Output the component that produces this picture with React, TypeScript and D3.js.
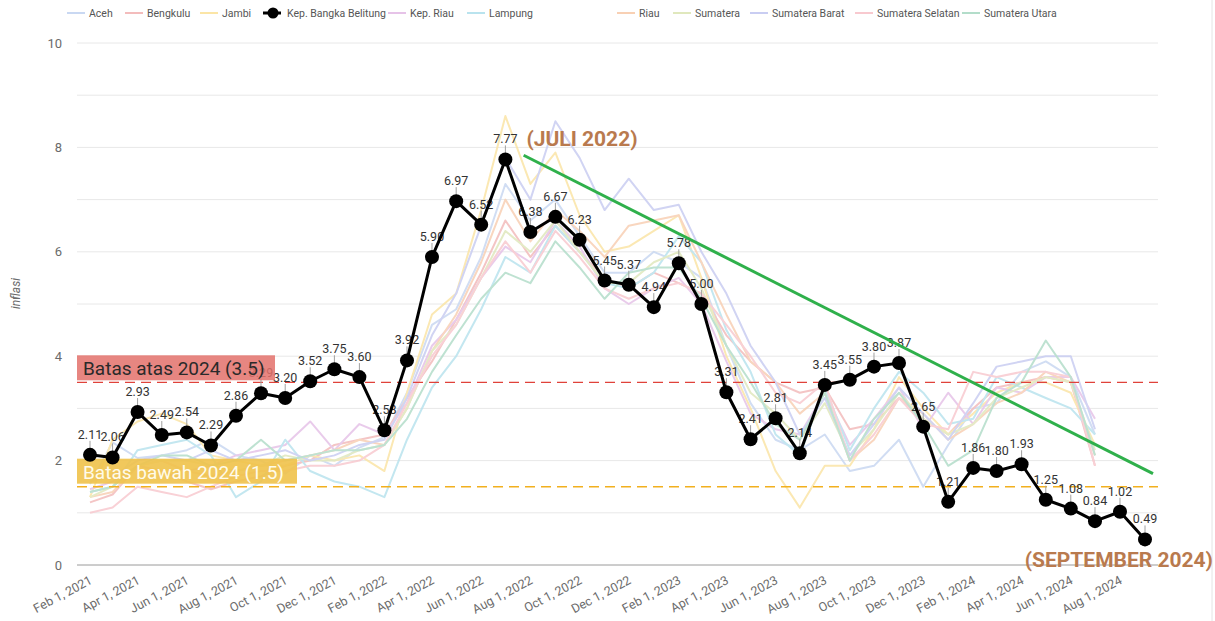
import React from "react";
import * as d3 from "d3";

const months = [
  "2021-02","2021-03","2021-04","2021-05","2021-06","2021-07","2021-08","2021-09","2021-10","2021-11","2021-12",
  "2022-01","2022-02","2022-03","2022-04","2022-05","2022-06","2022-07","2022-08","2022-09","2022-10","2022-11","2022-12",
  "2023-01","2023-02","2023-03","2023-04","2023-05","2023-06","2023-07","2023-08","2023-09","2023-10","2023-11","2023-12",
  "2024-01","2024-02","2024-03","2024-04","2024-05","2024-06","2024-07","2024-08","2024-09",
];

const babel = [2.11,2.06,2.93,2.49,2.54,2.29,2.86,3.29,3.20,3.52,3.75,3.60,2.58,3.92,5.90,6.97,6.52,7.77,6.38,6.67,6.23,5.45,5.37,4.94,5.78,5.00,3.31,2.41,2.81,2.14,3.45,3.55,3.80,3.87,2.65,1.21,1.86,1.80,1.93,1.25,1.08,0.84,1.02,0.49];

const aceh = [1.55,2.35,2.05,2.1,2.2,2.4,2.1,2.0,1.75,2.1,1.9,2.25,2.45,3.3,4.6,4.9,5.9,7.3,6.6,7.0,6.3,5.6,5.6,6.0,5.8,5.5,4.2,3.1,2.4,2.2,2.5,1.8,1.9,2.4,1.5,2.3,3.0,3.1,3.7,3.9,3.6,2.5];
const bengkulu = [1.2,1.35,1.9,1.8,1.6,1.45,1.6,1.7,1.9,2.0,2.3,2.4,2.5,3.2,3.9,4.7,5.6,6.6,5.9,6.5,6.0,5.5,5.3,5.6,5.4,5.2,4.4,3.9,3.5,3.3,3.4,2.6,2.7,3.2,2.8,2.5,3.0,3.4,3.5,3.6,3.5,1.9];
const jambi = [1.3,2.4,2.75,2.9,2.7,2.1,2.0,1.9,1.9,2.1,2.0,2.1,1.8,3.3,4.8,5.2,6.8,8.6,7.3,7.9,6.7,6.0,6.1,6.4,6.7,5.5,4.0,3.0,1.8,1.1,1.9,1.9,2.6,3.6,3.0,2.5,2.9,3.3,3.5,3.5,3.3,2.3];
const kepRiau = [1.45,1.6,1.9,2.0,1.8,1.9,2.1,2.2,2.3,2.75,2.2,2.7,2.5,3.1,4.2,4.7,5.5,6.1,5.8,6.6,6.1,5.3,5.0,5.3,5.5,5.0,3.9,2.9,2.6,2.5,3.3,2.3,2.8,3.4,2.6,3.3,2.7,3.4,3.3,3.6,3.6,2.8];
const lampung = [1.4,1.5,2.2,2.3,2.4,2.1,1.3,1.6,2.4,1.8,1.6,1.5,1.3,2.4,3.4,4.0,4.9,5.9,5.6,6.5,6.0,5.4,5.3,5.6,6.3,5.8,4.5,3.7,2.5,2.1,3.4,2.2,3.0,3.7,3.3,2.7,2.8,3.6,3.4,3.2,3.0,2.5];
const riau = [1.3,1.4,1.9,2.0,1.8,1.7,1.8,1.9,2.0,2.1,2.2,2.4,2.3,3.0,4.1,4.8,5.8,7.0,6.2,6.8,6.4,5.9,6.5,6.6,6.7,5.8,4.8,3.9,3.5,2.9,3.3,2.0,2.4,3.2,2.9,2.4,2.7,3.1,3.3,3.7,3.5,2.1];
const sumatera = [1.3,1.5,1.9,2.0,2.0,1.9,1.8,1.9,2.1,2.0,2.0,2.2,2.3,3.0,4.1,4.6,5.5,6.4,6.0,6.6,6.0,5.4,5.4,5.8,6.0,5.3,4.2,3.3,2.9,2.4,3.1,2.1,2.6,3.3,2.8,2.5,2.7,3.2,3.4,3.6,3.5,2.2];
const sumbar = [1.6,1.7,2.0,2.1,2.0,2.2,2.0,2.1,2.2,2.0,2.1,2.3,2.4,3.2,4.4,5.2,6.5,7.8,7.0,8.5,7.8,6.8,7.4,6.8,6.9,6.0,5.2,4.2,3.5,2.5,3.2,2.1,2.7,3.4,2.9,2.4,3.1,3.8,3.9,4.0,4.0,2.6];
const sumsel = [1.0,1.1,1.5,1.4,1.3,1.5,1.7,1.8,1.8,1.9,1.9,2.0,2.3,3.1,4.0,4.6,5.5,6.2,5.6,6.4,5.9,5.3,5.1,5.3,5.4,5.2,4.6,4.0,3.3,3.1,3.5,2.0,2.5,3.2,2.7,2.6,3.7,3.6,3.7,3.7,3.6,1.9];
const sumut = [1.4,1.5,1.9,2.1,2.1,1.9,2.0,2.4,2.0,2.1,2.2,2.2,2.3,2.8,3.7,4.4,5.1,5.6,5.4,6.2,5.7,5.1,5.6,5.7,5.7,5.1,4.2,3.5,2.7,2.4,3.3,2.0,2.8,3.3,2.7,1.9,2.2,3.2,3.5,4.3,3.6,2.1];

const seriesNames = ["Aceh","Bengkulu","Jambi","Kep. Bangka Belitung","Kep. Riau","Lampung","Riau","Sumatera","Sumatera Barat","Sumatera Selatan","Sumatera Utara"];
const seriesValues = [aceh, bengkulu, jambi, babel, kepRiau, lampung, riau, sumatera, sumbar, sumsel, sumut];
const seriesColors = ["#c9d8f2","#f3bcbc","#fbe5a6","#000000","#e6c3e8","#b9e3ee","#f8d0b4","#e0e8bd","#c9cdf2","#f8c9cf","#b3ddca"];

const yTicks = [0, 2, 4, 6, 8, 10];
const yGrid = [1, 2, 3, 4, 5, 6, 7, 8, 9, 10];
const xTickLabels = ["Feb 1, 2021","Apr 1, 2021","Jun 1, 2021","Aug 1, 2021","Oct 1, 2021","Dec 1, 2021","Feb 1, 2022","Apr 1, 2022","Jun 1, 2022","Aug 1, 2022","Oct 1, 2022","Dec 1, 2022","Feb 1, 2023","Apr 1, 2023","Jun 1, 2023","Aug 1, 2023","Oct 1, 2023","Dec 1, 2023","Feb 1, 2024","Apr 1, 2024","Jun 1, 2024","Aug 1, 2024"];

const upperLimit = 3.5;
const lowerLimit = 1.5;
const upperLabel = "Batas atas 2024 (3.5)";
const lowerLabel = "Batas bawah 2024 (1.5)";
const trendStart = { month: "2022-08", offsetMonths: -0.27, value: 7.85 };
const trendEnd = { month: "2024-09", offsetMonths: 0.33, value: 1.75 };
const peakNote = "(JULI 2022)";
const lastNote = "(SEPTEMBER 2024)";
const yTitle = "inflasi";

const legendX = [67, 125, 200, 263, 388, 467, 617, 673, 750, 855, 962];

const W = 1215, H = 621;
const parseM = d3.timeParse("%Y-%m");
const parseTick = d3.timeParse("%b %d, %Y");

export default function App() {
  const dates = months.map((m) => parseM(m) as Date);
  const x = d3.scaleTime().domain([dates[0], dates[dates.length - 1]]).range([90, 1145]);
  const y = d3.scaleLinear().domain([0, 10]).range([565, 43]);
  const gx0 = 77, gx1 = 1158;
  const line = d3.line<number>().x((_, i) => x(dates[i])).y((v) => y(v));
  const font = "Roboto, 'Noto Sans', Arial, sans-serif";
  const addMonths = (m: string, off: number) => {
    const d = parseM(m) as Date;
    const next = d3.timeMonth.offset(d, 1);
    return x(d) + (x(next) - x(d)) * off;
  };
  const peakIdx = babel.indexOf(d3.max(babel) as number);

  return (
    <svg width={W} height={H} style={{ position: "absolute", left: 0, top: 0, background: "#fff" }} fontFamily={font}>
      <rect width={W} height={H} fill="#fff" />
      <line x1={1212} x2={1212} y1={0} y2={H} stroke="#e4e4e4" />
      {yGrid.map((v) => (
        <line key={v} x1={gx0} x2={gx1} y1={y(v)} y2={y(v)} stroke="#e8e8e8" strokeWidth={1} />
      ))}
      <line x1={gx0} x2={gx1} y1={y(0)} y2={y(0)} stroke="#9a9a9a" strokeWidth={1} />
      {yTicks.map((v) => (
        <text key={v} x={62} y={y(v)} dy="0.35em" textAnchor="end" fontSize={13} fill="#6b6b6b">{v}</text>
      ))}
      <text transform={`translate(20,${y(5.2)}) rotate(-90)`} textAnchor="middle" fontSize={12} fontStyle="italic" fill="#6b6b6b">{yTitle}</text>
      {xTickLabels.map((t) => {
        const xv = x(parseTick(t) as Date);
        return (
          <text key={t} transform={`translate(${xv + 3},${583}) rotate(-28)`} textAnchor="end" fontSize={12.5} fill="#6b6b6b">{t}</text>
        );
      })}
      <g opacity={0.85}>
        {seriesValues.map((vals, si) =>
          si === 3 ? null : (
            <path key={si} d={line(vals) || ""} fill="none" stroke={seriesColors[si]} strokeWidth={2} strokeLinejoin="round" />
          )
        )}
      </g>
      <line x1={gx0} x2={gx1} y1={y(upperLimit)} y2={y(upperLimit)} stroke="#e0423a" strokeWidth={1.2} strokeDasharray="10,6" />
      <line x1={gx0} x2={gx1} y1={y(lowerLimit)} y2={y(lowerLimit)} stroke="#f2b01e" strokeWidth={1.5} strokeDasharray="10,6" />
      {babel.map((v, i) => {
        const px = x(dates[i]), py = y(v);
        return (
          <g key={i}>
            <line x1={px} x2={px} y1={py - 14} y2={py - 6} stroke="#a0a0a0" strokeWidth={1} />
            <text x={px} y={py - 16} textAnchor="middle" fontSize={12.5} fill="#333">{v.toFixed(2)}</text>
          </g>
        );
      })}
      <rect x={gx0} y={y(upperLimit) - 27} width={198} height={25} fill="#e3716b" opacity={0.85} />
      <text x={gx0 + 6} y={y(upperLimit) - 7} fontSize={19} fill="#2a2a2a">{upperLabel}</text>
      <rect x={gx0} y={y(lowerLimit) - 28} width={220} height={25} fill="#f0c24a" opacity={0.9} />
      <text x={gx0 + 6} y={y(lowerLimit) - 8} fontSize={19} fill="#fffbe9">{lowerLabel}</text>
      <path d={line(babel) || ""} fill="none" stroke="#000" strokeWidth={3} strokeLinejoin="round" />
      {babel.map((v, i) => (
        <circle key={i} cx={x(dates[i])} cy={y(v)} r={7} fill="#000" />
      ))}
      <line
        x1={addMonths(trendStart.month, trendStart.offsetMonths)}
        y1={y(trendStart.value)}
        x2={addMonths(trendEnd.month, trendEnd.offsetMonths)}
        y2={y(trendEnd.value)}
        stroke="#2fb04b"
        strokeWidth={3}
      />
      <text x={x(dates[peakIdx]) + 21} y={y(babel[peakIdx]) - 13} fontSize={21} fontWeight="bold" fill="#b97a4e">{peakNote}</text>
      <text x={1213} y={y(0) + 2} textAnchor="end" fontSize={21} fontWeight="bold" fill="#b97a4e">{lastNote}</text>
      {seriesNames.map((n, i) => {
        const lx = legendX[i];
        const isMain = i === 3;
        return (
          <g key={n}>
            <line x1={lx} x2={lx + 18} y1={13} y2={13} stroke={seriesColors[i]} strokeWidth={isMain ? 3 : 2} />
            {isMain && <circle cx={lx + 10} cy={13} r={5.5} fill="#000" />}
            <text x={lx + (isMain ? 24 : 22)} y={13} dy="0.35em" fontSize={10.5} fill="#555">{n}</text>
          </g>
        );
      })}
    </svg>
  );
}
